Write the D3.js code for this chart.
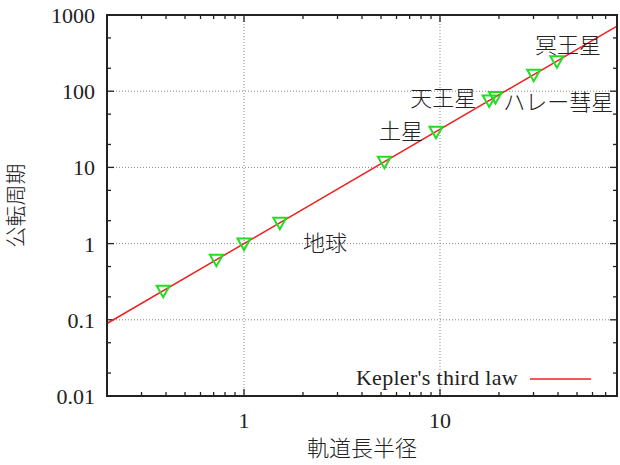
<!DOCTYPE html>
<html>
<head>
<meta charset="utf-8">
<script src="https://cdnjs.cloudflare.com/ajax/libs/d3/7.8.5/d3.min.js"></script>
<style>
  body { margin: 0; background: #fff; }
  text { font-family: "Liberation Serif", "Noto Sans CJK JP", serif; fill: #222; }
</style>
</head>
<body>
<div id="chart"></div>
<script>
// orbit data (AU, years)
var bodies = ["水星", "金星", "地球", "火星", "木星", "土星", "天王星", "海王星", "冥王星", "ハレー彗星"];
var semiMajor = [0.387, 0.723, 1.0, 1.524, 5.203, 9.537, 19.19, 30.07, 39.48, 17.83];
var period = [0.241, 0.615, 1.0, 1.881, 11.86, 29.46, 84.01, 164.8, 247.7, 75.3];

// labels placed in data coordinates
var labelText = ["冥王星", "天王星", "ハレー彗星", "土星", "地球"];
var labelA = [30.5, 15.3, 21.0, 8.2, 2.0];
var labelT = [404, 81, 72, 30, 1.0];
var labelAnchor = ["start", "end", "start", "end", "start"];

var xTicks = [1, 10];
var yTicks = [0.01, 0.1, 1, 10, 100, 1000];

var width = 620, height = 465;
var margin = {top: 15, right: 3, bottom: 69, left: 107};
var w = width - margin.left - margin.right,
    h = height - margin.top - margin.bottom;

var svg = d3.select("#chart").append("svg")
    .attr("width", width)
    .attr("height", height);

var g = svg.append("g")
    .attr("transform", "translate(" + margin.left + "," + margin.top + ")");

var x = d3.scaleLog().domain([0.2, 80]).range([0, w]);
var y = d3.scaleLog().domain([0.01, 1000]).range([h, 0]);

// minor ticks
var xMinor = [];
[0.1, 1, 10].forEach(function (d) {
    for (var k = 2; k <= 9; k++) {
        var v = d * k;
        if (v >= 0.2 && v <= 80 && v !== 1 && v !== 10) xMinor.push(v);
    }
});
var yMinor = [];
[0.01, 0.1, 1, 10, 100].forEach(function (d) {
    yMinor.push(d * 2, d * 5);
});

// grid
g.selectAll("line.gx")
    .data(xTicks)
    .enter().append("line")
    .attr("x1", function (d) { return x(d); })
    .attr("x2", function (d) { return x(d); })
    .attr("y1", 0).attr("y2", h)
    .style("stroke", "#888").style("stroke-width", 1)
    .style("stroke-dasharray", "1,2");
g.selectAll("line.gy")
    .data(yTicks.slice(1, -1))
    .enter().append("line")
    .attr("x1", 0).attr("x2", w)
    .attr("y1", function (d) { return y(d); })
    .attr("y2", function (d) { return y(d); })
    .style("stroke", "#888").style("stroke-width", 1)
    .style("stroke-dasharray", "1,2");

// ticks on all four sides, pointing inward
function tickLines(vals, len, horizontal) {
    vals.forEach(function (v) {
        if (horizontal) {
            var px = x(v);
            g.append("line").attr("x1", px).attr("x2", px).attr("y1", h).attr("y2", h - len)
                .style("stroke", "#222").style("stroke-width", 1.3);
            g.append("line").attr("x1", px).attr("x2", px).attr("y1", 0).attr("y2", len)
                .style("stroke", "#222").style("stroke-width", 1.3);
        } else {
            var py = y(v);
            g.append("line").attr("x1", 0).attr("x2", len).attr("y1", py).attr("y2", py)
                .style("stroke", "#222").style("stroke-width", 1.3);
            g.append("line").attr("x1", w).attr("x2", w - len).attr("y1", py).attr("y2", py)
                .style("stroke", "#222").style("stroke-width", 1.3);
        }
    });
}
tickLines(xTicks, 7, true);
tickLines(xMinor, 4, true);
tickLines(yTicks, 7, false);
tickLines(yMinor, 4, false);

// tick labels
g.selectAll("text.xt")
    .data(xTicks)
    .enter().append("text")
    .attr("x", function (d) { return x(d); })
    .attr("y", h + 32)
    .attr("text-anchor", "middle")
    .style("font-size", "22px")
    .text(function (d) { return d; });
g.selectAll("text.yt")
    .data(yTicks)
    .enter().append("text")
    .attr("x", -12)
    .attr("y", function (d) { return y(d) + 8; })
    .attr("text-anchor", "end")
    .style("font-size", "22px")
    .text(function (d) { return d; });

// Kepler's third law line  T = a^1.5
var lawA = x.domain();
var lawLine = d3.line()
    .x(function (d) { return x(d); })
    .y(function (d) { return y(Math.pow(d, 1.5)); });
g.append("path")
    .datum(lawA)
    .attr("d", lawLine)
    .style("fill", "none")
    .style("stroke", "#ee2222")
    .style("stroke-width", 1.5);

// points: open down-triangles
g.selectAll("path.pt")
    .data(semiMajor)
    .enter().append("path")
    .attr("transform", function (d, i) {
        return "translate(" + x(d) + "," + y(period[i]) + ")";
    })
    .attr("d", "M-6.5,-5 L6.5,-5 L0,6.5 Z")
    .style("fill", "none")
    .style("stroke", "#22dd22")
    .style("stroke-width", 2);

// labels
g.selectAll("text.lb")
    .data(labelText)
    .enter().append("text")
    .attr("x", function (d, i) { return x(labelA[i]); })
    .attr("y", function (d, i) { return y(labelT[i]); })
    .attr("dy", "0.35em")
    .attr("text-anchor", function (d, i) { return labelAnchor[i]; })
    .style("font-size", "22px")
    .style("font-family", "'Noto Sans CJK JP', sans-serif")
    .style("font-weight", 300)
    .text(function (d) { return d; });

// frame
g.append("rect")
    .attr("width", w).attr("height", h)
    .style("fill", "none")
    .style("stroke", "#222")
    .style("stroke-width", 2);

// legend
g.append("text")
    .attr("x", 411).attr("y", h - 11)
    .attr("text-anchor", "end")
    .style("font-size", "22px")
    .style("letter-spacing", "0.3px")
    .text("Kepler's third law");
g.append("line")
    .attr("x1", 423).attr("x2", 484)
    .attr("y1", h - 17).attr("y2", h - 17)
    .style("stroke", "#ee2222")
    .style("stroke-width", 1.5);

// axis titles
svg.append("text")
    .attr("x", margin.left + w / 2)
    .attr("y", 456)
    .attr("text-anchor", "middle")
    .style("font-size", "22px")
    .style("font-family", "'Noto Sans CJK JP', sans-serif")
    .style("font-weight", 300)
    .text("軌道長半径");
svg.append("text")
    .attr("transform", "translate(23," + (margin.top + h / 2) + ") rotate(-90)")
    .attr("text-anchor", "middle")
    .style("font-size", "21px")
    .style("font-family", "'Noto Sans CJK JP', sans-serif")
    .style("font-weight", 300)
    .text("公転周期");
</script>
</body>
</html>
